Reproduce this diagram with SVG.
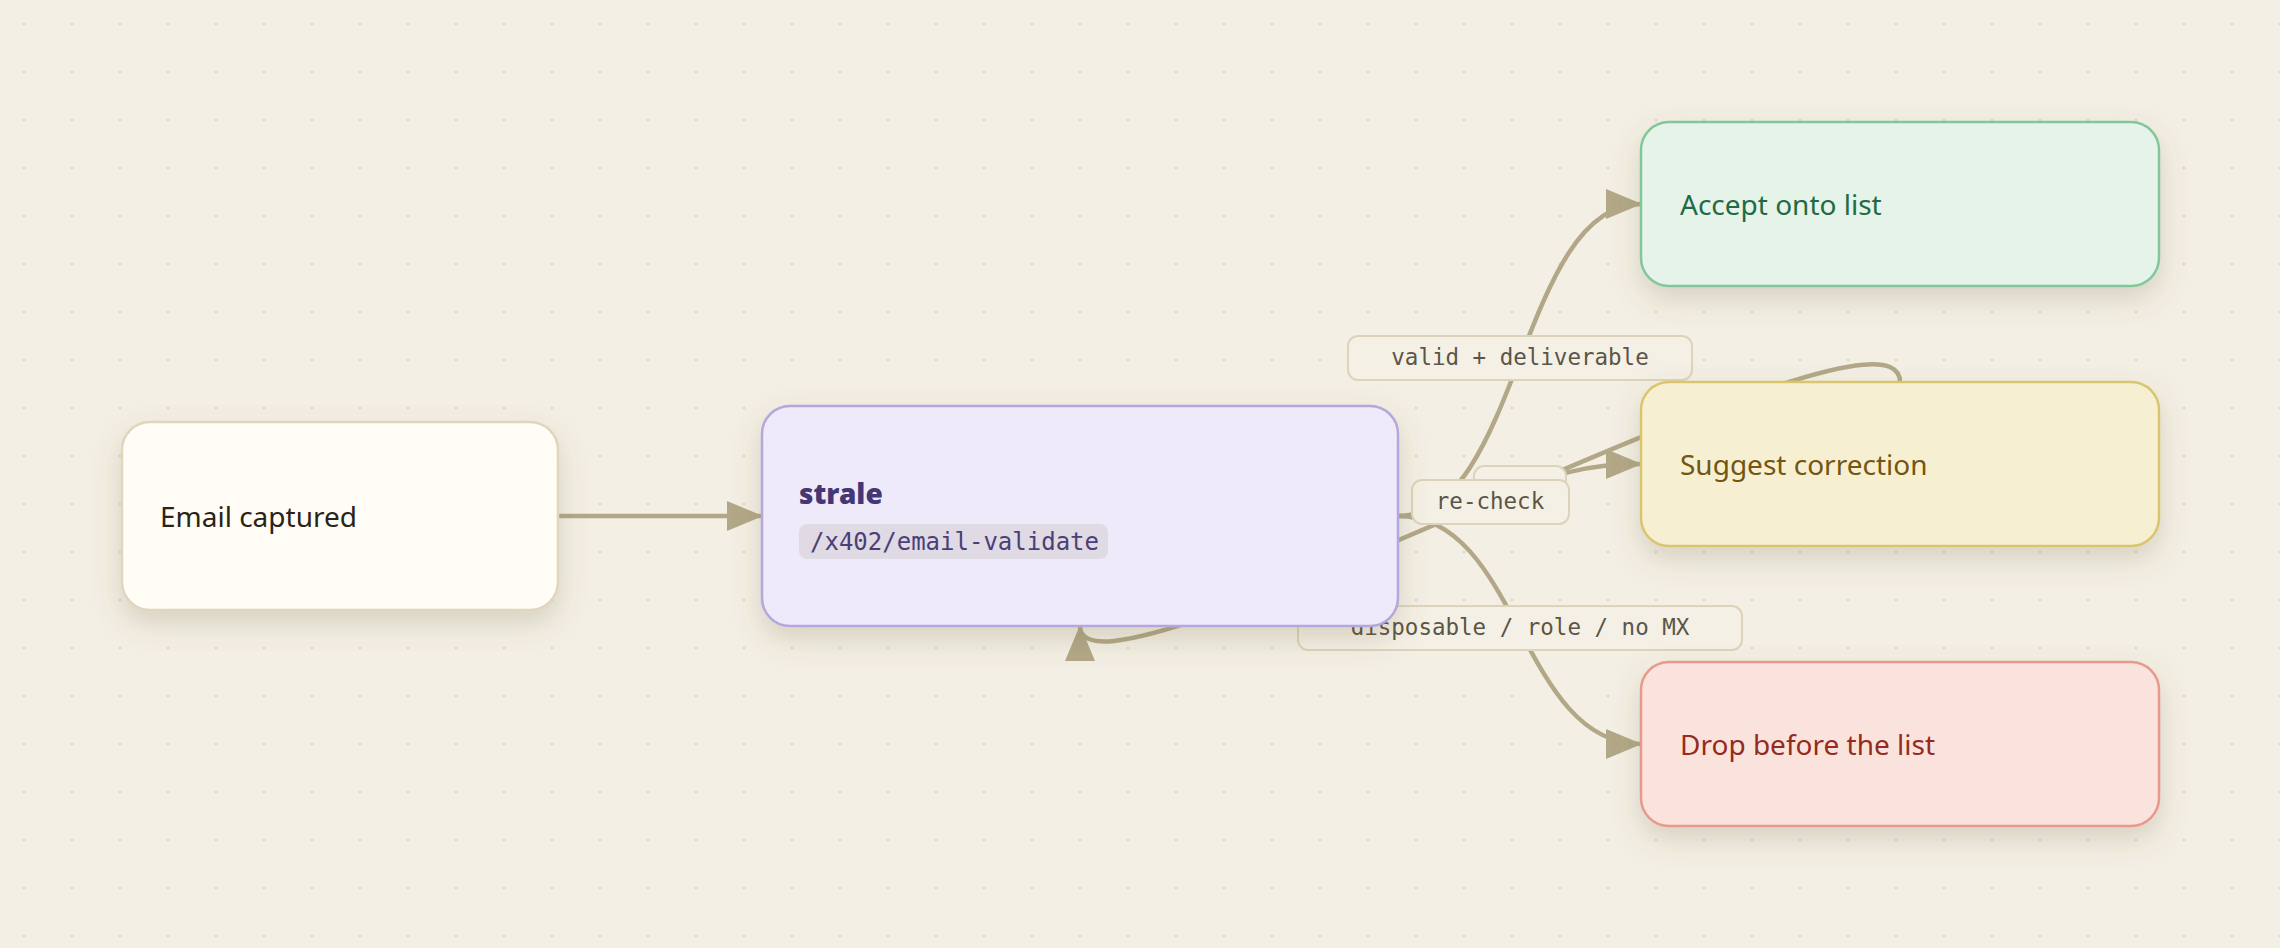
<svg xmlns="http://www.w3.org/2000/svg" width="2280" height="948" viewBox="0 0 2280 948">
<defs>
<pattern id="dots" width="48" height="48" patternUnits="userSpaceOnUse"><circle cx="24" cy="24" r="1.7" fill="#e2dbca"/></pattern>
<filter id="sh" x="-20%" y="-20%" width="140%" height="170%"><feDropShadow dx="0" dy="12" stdDeviation="14" flood-color="#6b5a30" flood-opacity="0.2"/></filter>
<marker id="arr" viewBox="0 0 36 30" refX="35" refY="15" markerWidth="36" markerHeight="30" markerUnits="userSpaceOnUse" orient="auto"><path d="M0,0 L36,15 L0,30 z" fill="#b2a887"/></marker>
<style>
.edge{fill:none;stroke:#b2a887;stroke-width:4.5;marker-end:url(#arr)}
.lbl rect{fill:#f4f0e5;stroke:#ddd3bb;stroke-width:2}
.lbl text{font-family:"DejaVu Sans Mono",monospace;font-size:22.5px;fill:#5b5547;text-anchor:middle}
.node rect.box{stroke-width:2.5;filter:url(#sh)}
.node text.t{font-family:"Noto Sans","Open Sans",sans-serif;font-size:28px}
</style>
</defs>
<rect width="2280" height="948" fill="#f3efe4"/>
<rect width="2280" height="948" fill="url(#dots)"/>
<g id="connectors">
<path class="edge" d="M558,516 L762,516"/>
<path class="edge" d="M1398,516 C1519.5,516 1519.5,204 1641,204"/>
<path class="edge" d="M1398,516 C1519.5,516 1519.5,464 1641,464"/>
<path class="edge" d="M1398,516 C1519.5,516 1519.5,744 1641,744"/>
<path class="edge" d="M1900,382 C1900,270 1080,730 1080,626"/>
<g class="lbl"><rect x="1348" y="336" width="344" height="44" rx="10"/><text x="1520" y="365">valid + deliverable</text></g>
<g class="lbl"><rect x="1474" y="466" width="92" height="44" rx="10"/></g>
<g class="lbl"><rect x="1412" y="480" width="157" height="44" rx="10"/><text x="1490" y="509">re-check</text></g>
<g class="lbl"><rect x="1298" y="606" width="444" height="44" rx="10"/><text x="1520" y="635">disposable / role / no MX</text></g>
</g>
<g id="n-email" class="node"><rect class="box" x="122" y="422" width="436" height="188" rx="28" fill="#fffdf6" stroke="#e0d5bd"/><text class="t" x="160" y="527" fill="#2a2418">Email captured</text></g>
<g id="n-strale" class="node"><rect class="box" x="762" y="406" width="636" height="220" rx="28" fill="#eeeafa" stroke="#b5a6dd"/>
<text x="799" y="504" font-family="Noto Sans, Open Sans, sans-serif" font-size="28" font-weight="900" fill="#453775">strale</text>
<rect x="799" y="524" width="309" height="35" rx="8" fill="#dfdae4"/>
<text x="810" y="550" font-family="DejaVu Sans Mono, monospace" font-size="24" fill="#4b3f7a">/x402/email-validate</text></g>
<g id="n-accept" class="node"><rect class="box" x="1641" y="122" width="518" height="164" rx="28" fill="#e6f3e8" stroke="#82c79b"/><text class="t" x="1680" y="215" fill="#1f6b46">Accept onto list</text></g>
<g id="n-suggest" class="node"><rect class="box" x="1641" y="382" width="518" height="164" rx="28" fill="#f7efd2" stroke="#d9c56c"/><text class="t" x="1680" y="475" fill="#73560f">Suggest correction</text></g>
<g id="n-drop" class="node"><rect class="box" x="1641" y="662" width="518" height="164" rx="28" fill="#fae3dd" stroke="#e8998b"/><text class="t" x="1680" y="755" fill="#962a1d">Drop before the list</text></g>
</svg>
